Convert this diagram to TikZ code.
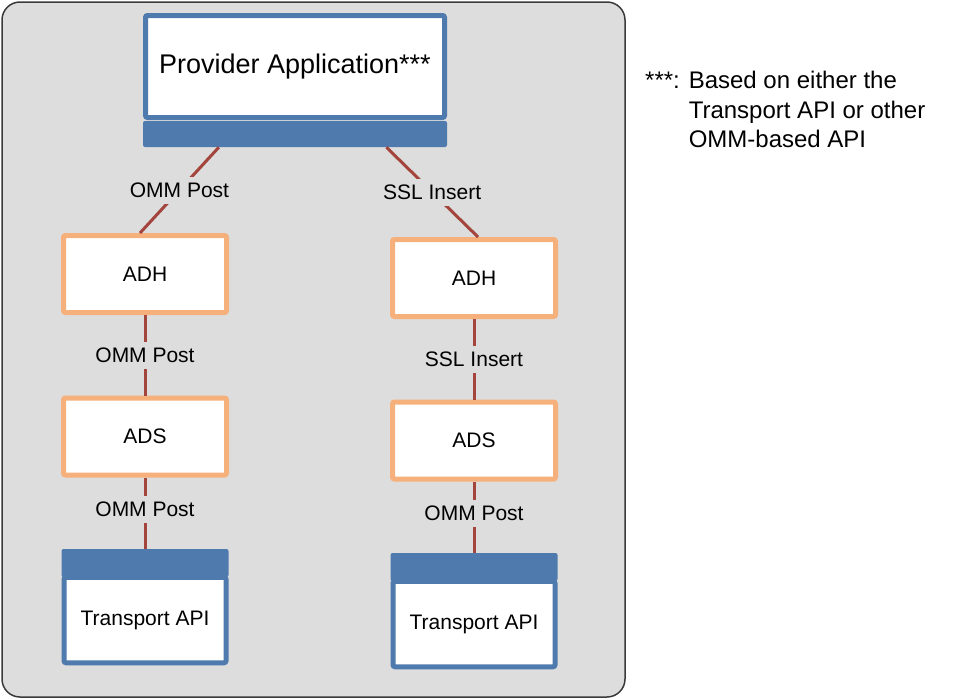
\documentclass[tikz,border=0pt]{standalone}
\usepackage{fontspec}
\setmainfont{Liberation Sans}
\usetikzlibrary{calc}
\definecolor{bgcol}{HTML}{DDDDDD}
\definecolor{apiblue}{HTML}{4F7AAE}
\definecolor{huborange}{HTML}{F6B07C}
\definecolor{linkred}{HTML}{A3443D}
\definecolor{framecol}{HTML}{3A3A3A}

\begin{document}
\begin{tikzpicture}[x=1pt,y=-1pt,
    appstyle/.style={draw=apiblue,fill=white,line width=5pt,rounded corners=2pt,
    inner sep=0,font=\fontsize{21}{25}\selectfont},
    barstyle/.style={fill=apiblue,rounded corners=2pt,inner sep=0},
    hubstyle/.style={draw=huborange,fill=white,line width=5pt,rounded corners=2pt,
    minimum width=163pt,minimum height=77pt,inner sep=0,font=\fontsize{21}{25}\selectfont},
    linkstyle/.style={draw=linkred,line width=3pt},
    lblstyle/.style={fill=bgcol,inner xsep=2pt,inner ysep=6pt,font=\fontsize{21}{25}\selectfont}]
    \useasboundingbox (0,0) rectangle (957,699);
    \draw[framecol,fill=bgcol,line width=1.5pt,rounded corners=18pt] (2,2) rectangle (625,697);
    % provider on top
    \node[appstyle,minimum width=299pt,minimum height=102pt,font=\fontsize{27}{32}\selectfont]
    (prov) at (295,66.5) {Provider Application***};
    \node[barstyle,minimum width=304pt,minimum height=26pt] (provbar) at (295,134) {};
    % the two columns
    \foreach \col/\xx/\dy/\lab/\fr/\ex in {L/145/0/OMM Post/0.25/-5,R/474/4/SSL Insert/0.8/4} {
        \node[hubstyle] (adh\col) at (\xx,274+\dy) {ADH};
        \node[hubstyle] (ads\col) at (\xx,436.5+\dy) {ADS};
        \node[appstyle,minimum width=162pt,minimum height=85.5pt] (tapi\col) at (\xx,620+\dy) {Transport API};
        \node[barstyle,minimum width=167pt,minimum height=28pt] (tbar\col) at (\xx,563+\dy) {};
        \draw[linkstyle] ($(provbar.south west)!\fr!(provbar.south east)$) -- node[lblstyle] {\lab} ($(adh\col.north)+(\ex,0)$);
        \draw[linkstyle] (adh\col) -- node[lblstyle] {\lab} (ads\col);
        \draw[linkstyle] (ads\col) -- node[lblstyle,pos=0.45] {OMM Post} (tbar\col);
    }
    \node[anchor=north west,inner sep=0,font=\fontsize{24}{29.5}\selectfont] (note) at (645,68)
    {\begin{tabular}{@{}l@{ }l@{}}***: & Based on either the\\ & Transport API or other\\ & OMM-based API\end{tabular}};
\end{tikzpicture}
\end{document}
